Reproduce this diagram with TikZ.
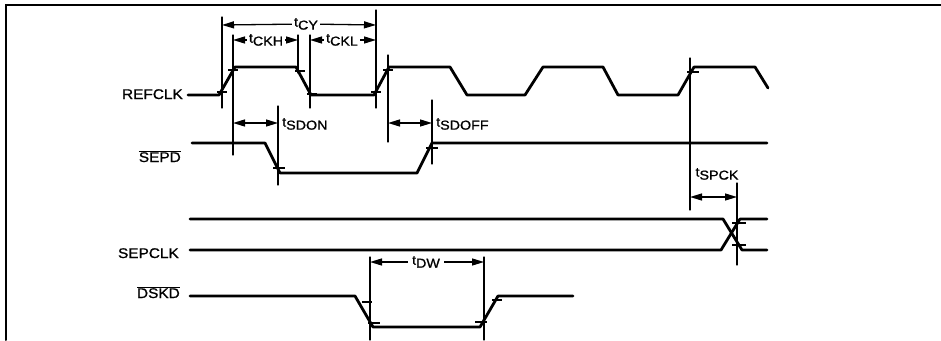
\documentclass[tikz,border=0pt]{standalone}
\usepackage{fontspec}
\setmainfont{Liberation Sans}[FakeStretch=1.1,FakeBold=1]
\usepackage{tkz-euclide}
\usetikzlibrary{arrows.meta}
\newcommand\tlab[1]{t\raisebox{-3pt}{#1}}

\begin{document}
\begin{tikzpicture}[x=1pt,y=-1pt,
  sigline/.style={line width=2.8pt,line join=round},
  guide/.style={line width=1.3pt},
  tickmark/.style={line width=1.1pt},
  frameline/.style={line width=2pt},
  dimarrow/.style={line width=1.3pt,-{Triangle[length=12pt,width=7pt]}},
  dimboth/.style={line width=1.3pt,{Triangle[length=12pt,width=7pt]}-{Triangle[length=12pt,width=7pt]}},
  signame/.style={anchor=base east,inner sep=0pt,font=\fontsize{14}{16}\selectfont},
  tname/.style={inner sep=2pt,font=\fontsize{13}{15}\selectfont}]
\useasboundingbox (0,0) rectangle (941,340);

% frame
\tkzDefPoints{6/340/F1,6/5/F2,941/5/F3}
\tkzDrawPolySeg[frameline](F1,F2,F3)

% waveforms
\tkzDefPoints{188/95/R0,219/95/R1,235/67/R2,296/67/R3,311/95/R4,374/95/R5,389/67/R6,450/67/R7,467/95/R8,525/95/R9,543/67/R10,603/67/R11,618/95/R12,678/95/R13,694/67/R14,755/67/R15,768/88/R16}
\tkzDefPoints{192/143/S0,265/143/S1,280/173/S2,417/173/S3,432/143/S4,767/143/S5}
\tkzDefPoints{190/219/C0,723/219/C1,742/250/C2,767/250/C3,190/250/D0,721/250/D1,740/219/D2,767/219/D3}
\tkzDefPoints{190/296/K0,355/296/K1,373/327/K2,480/327/K3,498/296/K4,573/296/K5}

\tkzDrawPolySeg[sigline](R0,R1,R2,R3,R4,R5,R6,R7,R8,R9,R10,R11,R12,R13,R14,R15,R16)
\tkzDrawPolySeg[sigline](S0,S1,S2,S3,S4,S5)
\tkzDrawPolySeg[sigline](C0,C1,C2,C3)
\tkzDrawPolySeg[sigline](D0,D1,D2,D3)
\tkzDrawPolySeg[sigline](K0,K1,K2,K3,K4,K5)

% signal names
\node[signame] (refclk) at (183,99) {REFCLK};
\node[signame] (sepd) at (181,162) {$\overline{\mbox{SEPD}}$};
\node[signame] (sepclk) at (179,258) {SEPCLK};
\node[signame] (dskd) at (180,298) {$\overline{\mbox{DSKD}}$};

% reference lines
\tkzDefPoints{222/17/G1,222/108/H1,233/35/G2,233/155/H2,298/35/G3,298/73/H3,310/35/G4,310/108/H4,376/10/G5,376/108/H5,388/55/G6,388/142/H6}
\tkzDefPoints{278/106/G7,278/185/H7,432/100/G8,432/164/H8,690/58/G9,690/210/H9,737/183/G10,737/265/H10,370/257/G11,370/340/H11,484/257/G12,484/340/H12}
\tkzDrawSegments[guide](G1,H1 G2,H2 G3,H3 G4,H4 G5,H5 G6,H6 G7,H7 G8,H8 G9,H9 G10,H10 G11,H11 G12,H12)

% ticks on the edges
\draw[tickmark] (217,92) -- (227,92) (228,70) -- (238,70) (295,71) -- (305,71) (307,94) -- (317,94)
  (371,92) -- (381,92) (383,70) -- (393,70) (687,72) -- (699,72)
  (273,168) -- (285,168) (426,148) -- (438,148)
  (732,223) -- (746,223) (732,245) -- (746,245)
  (362,302) -- (372,302) (368,323) -- (380,323) (475,322) -- (487,322) (492,300) -- (502,300);

% timing parameters
\tkzDefPoints{222/25/Y1,376/25/Y2,233/40/Y3,298/40/Y4,310/40/Y5,376/40/Y6,233/123/Y7,278/123/Y8,388/123/Y9,432/123/Y10,690/197/Y11,737/197/Y12,370/262/Y13,484/262/Y14}

\node[tname] (tcy) at (306,24) {\tlab{CY}};
\node[tname] (tckh) at (266,40) {\tlab{CKH}};
\node[tname] (tckl) at (342,40) {\tlab{CKL}};
\node[tname,anchor=west] (tsdon) at (280,124) {\tlab{SDON}};
\node[tname,anchor=west] (tsdoff) at (434,124) {\tlab{SDOFF}};
\node[tname] (tspck) at (717,174) {\tlab{SPCK}};
\node[tname,inner sep=4pt] (tdw) at (426,262) {\tlab{DW}};

\draw[dimarrow] (tcy) -- (Y1);
\draw[dimarrow] (tcy) -- (Y2);
\draw[dimarrow] (tckh) -- (Y3);
\draw[dimarrow] (tckh) -- (Y4);
\draw[dimarrow] (tckl) -- (Y5);
\draw[dimarrow] (tckl) -- (Y6);
\tkzDrawSegments[dimboth](Y7,Y8 Y9,Y10 Y11,Y12)
\draw[dimarrow] (tdw) -- (Y13);
\draw[dimarrow] (tdw) -- (Y14);

\end{tikzpicture}
\end{document}
